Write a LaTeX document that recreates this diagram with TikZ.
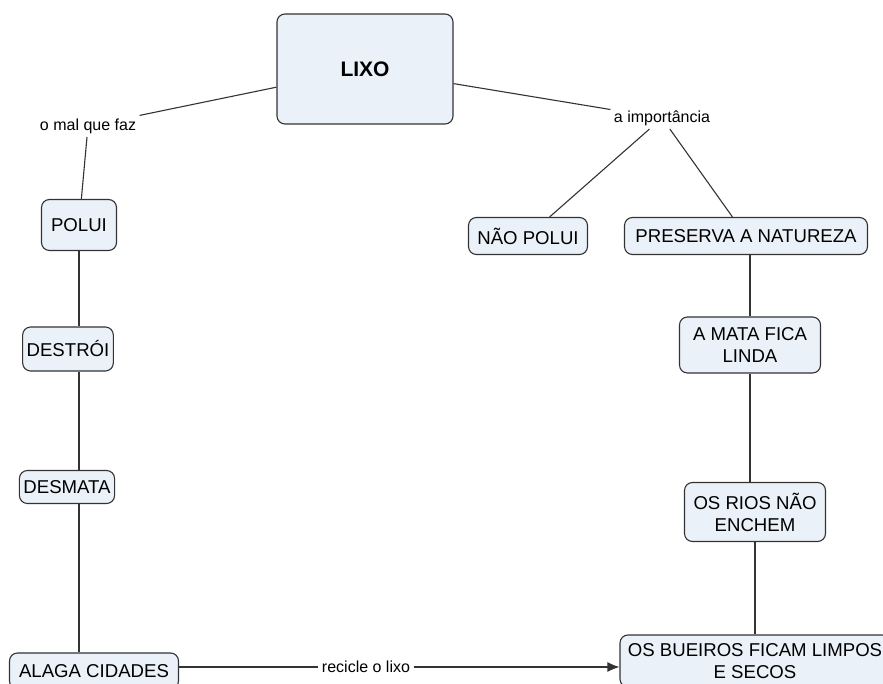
\documentclass[tikz,border=0pt]{standalone}
\usepackage{fontspec}
\setmainfont{Liberation Sans}
\usetikzlibrary{arrows.meta}

\definecolor{boxfill}{RGB}{234,241,248}

\tikzset{
  concept/.style={draw=black!80, fill=boxfill, rounded corners=8pt, align=center,
    font=\fontsize{18.6}{22}\selectfont, inner sep=4pt},
  linkword/.style={font=\fontsize{16}{19}\selectfont, inner sep=3pt, fill=white},
}

\begin{document}
\begin{tikzpicture}[x=1pt, y=-1pt, line width=1.1pt, draw=black!80]

\useasboundingbox (0,0) rectangle (883,684);

\node [concept, minimum width=176, minimum height=110, font=\fontsize{21}{24}\selectfont\bfseries] (lixo) at (365,69) {LIXO};
\node [linkword] (mal) at (88,126) {o mal que faz};
\node [linkword] (imp) at (662,118) {a importância};

\node [concept, minimum width=75, minimum height=51] (polui) at (79,225) {POLUI};
\node [concept, minimum width=77, minimum height=44] (destroi) at (68,349) {DESTRÓI};
\node [concept, minimum width=83, minimum height=33] (desmata) at (67,487) {DESMATA};
\node [concept, minimum width=169, minimum height=36] (alaga) at (94,671) {ALAGA CIDADES};

\node [concept, minimum width=119, minimum height=37] (naopolui) at (528,236) {NÃO POLUI};
\node [concept, minimum width=243, minimum height=37] (preserva) at (746,236) {PRESERVA A NATUREZA};
\node [concept, minimum width=141, minimum height=56] (mata) at (750,345) {A MATA FICA\\LINDA};
\node [concept, minimum width=141, minimum height=59] (rios) at (755,512) {OS RIOS NÃO\\ENCHEM};
\node [concept, minimum width=270, minimum height=52] (bueiros) at (755,661) {OS BUEIROS FICAM LIMPOS\\E SECOS};

\node [linkword] (rec) at (366,667) {recicle o lixo};

% left side
\draw (lixo) -- (mal);
\draw (mal) -- (polui);
\draw (polui) -- (polui |- destroi.north);
\draw (destroi.south -| polui) -- (polui |- desmata.north);
\draw (desmata.south -| polui) -- (polui |- alaga.north);

% right side
\draw (lixo) -- (imp);
\draw (imp) -- (naopolui);
\draw (imp) -- (preserva);
\draw (preserva.south -| mata) -- (mata);
\draw (mata) -- (mata |- rios.north);
\draw (rios) -- (rios |- bueiros.north);

% bottom
\draw (alaga.east |- rec) -- (rec);
\draw [-{Latex[length=12pt, width=10pt]}] (rec) -- (rec -| bueiros.west);

\end{tikzpicture}
\end{document}
